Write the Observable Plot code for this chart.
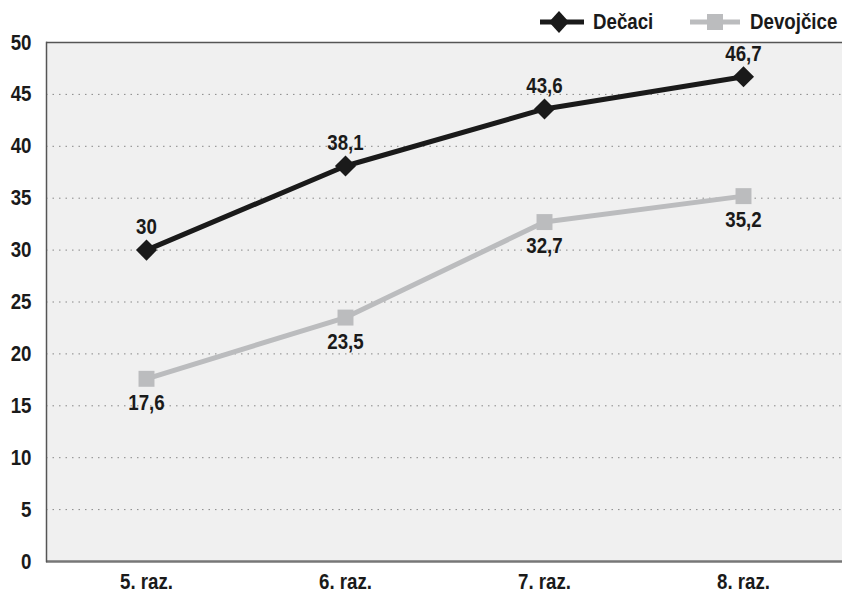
<!DOCTYPE html>
<html>
<head>
<meta charset="utf-8">
<script src="https://cdn.jsdelivr.net/npm/d3@7"></script>
<script src="https://cdn.jsdelivr.net/npm/@observablehq/plot@0.6"></script>
<style>
  body { margin: 0; background: #fff; }
  #wrap { position: relative; width: 842px; height: 594px; }
  #wrap, #wrap svg text, .legend {
    font-family: "Liberation Sans", Arial, sans-serif;
    font-weight: bold;
  }
  .legend { position: absolute; top: 8px; left: 538px; display: flex; align-items: center; font-size: 22px; color: #1a1a1a; }
  .legend .item { display: flex; align-items: center; }
  .legend svg { display: block; }
  .legend span { display: inline-block; transform: scaleX(0.85); transform-origin: left center; }
</style>
</head>
<body>
<div id="wrap">
  <div class="legend">
    <div class="item">
      <svg width="48" height="28"><line x1="2" x2="46" y1="14" y2="14" stroke="#1a1a1a" stroke-width="5"/><path d="M21,3 L31,14 L21,25 L11,14 Z" fill="#1a1a1a"/></svg>
      <span style="margin-left:7px">Dečaci</span>
    </div>
    <div class="item" style="margin-left:24px">
      <svg width="54" height="28"><line x1="2" x2="52" y1="14" y2="14" stroke="#bbbcbe" stroke-width="5"/><rect x="19" y="6" width="16" height="16" fill="#bbbcbe"/></svg>
      <span style="margin-left:8px">Devojčice</span>
    </div>
  </div>
</div>
<script>
// Grades on the x axis
const grades = ["5. raz.", "6. raz.", "7. raz.", "8. raz."];
// Series values
const boys = [30, 38.1, 43.6, 46.7];
const girls = [17.6, 23.5, 32.7, 35.2];
// Y axis ticks
const yTicks = [0, 5, 10, 15, 20, 25, 30, 35, 40, 45, 50];
const gridTicks = yTicks.filter(d => d > 0 && d < 50);

const fmt = v => String(v).replace(".", ",");
const boysData = grades.map((g, i) => ({grade: g, value: boys[i]}));
const girlsData = grades.map((g, i) => ({grade: g, value: girls[i]}));

const chart = Plot.plot({
  width: 842,
  height: 594,
  marginTop: 42,
  marginBottom: 33,
  marginLeft: 46,
  marginRight: 0,
  style: {fontSize: "22px", fontWeight: "bold", color: "#1a1a1a", background: "transparent"},
  x: {type: "point", domain: grades, padding: 0.5, label: null},
  y: {domain: [0, 50], label: null},
  marks: [
    Plot.frame({fill: "#f0f0f0", stroke: null}),
    Plot.ruleY(gridTicks, {stroke: "#888", strokeWidth: 1, strokeDasharray: "1.5 5"}),
    Plot.ruleY([50], {stroke: "#555", strokeWidth: 1.5}),
    Plot.ruleY([0], {stroke: "#777", strokeWidth: 2.5}),
    Plot.frame({anchor: "left", stroke: "#555", strokeWidth: 1.5}),
    Plot.axisY({ticks: yTicks, tickSize: 0, tickPadding: 15, fontSize: 22, tickFormat: d => d}),
    Plot.axisX({tickSize: 0, tickPadding: 12, fontSize: 22}),
    Plot.line(girlsData, {x: "grade", y: "value", stroke: "#bbbcbe", strokeWidth: 5}),
    Plot.dot(girlsData, {x: "grade", y: "value", symbol: "square", r: 9, fill: "#bbbcbe", stroke: null}),
    Plot.text(girlsData, {x: "grade", y: "value", text: d => fmt(d.value), dy: 24, fontSize: 22, fill: "#1a1a1a"}),
    Plot.line(boysData, {x: "grade", y: "value", stroke: "#1a1a1a", strokeWidth: 5}),
    Plot.dot(boysData, {x: "grade", y: "value", symbol: "diamond2", r: 9.5, fill: "#1a1a1a", stroke: null}),
    Plot.text(boysData, {x: "grade", y: "value", text: d => fmt(d.value), dy: -23, fontSize: 22, fill: "#1a1a1a"})
  ]
});

// Narrow every label horizontally around its own anchor point (condensed look)
chart.querySelectorAll("text").forEach(t => {
  const tr = t.getAttribute("transform");
  if (tr) {
    t.setAttribute("transform", tr + " scale(0.85,1)");
  } else {
    const x = +(t.getAttribute("x") || 0), y = +(t.getAttribute("y") || 0);
    t.removeAttribute("x");
    t.removeAttribute("y");
    t.setAttribute("transform", `translate(${x},${y}) scale(0.85,1)`);
  }
});

document.getElementById("wrap").prepend(chart);
</script>
</body>
</html>
